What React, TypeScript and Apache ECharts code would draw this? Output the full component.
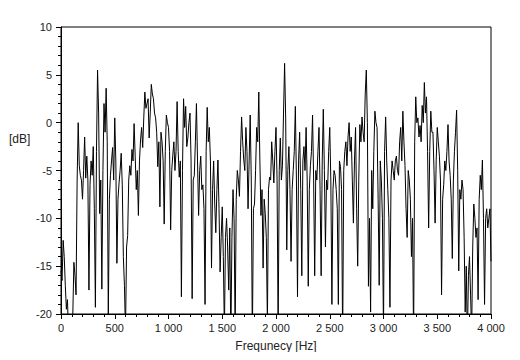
import React, { useEffect, useRef } from "react";
import * as echarts from "echarts";

// frequency step between spectrum bins (Hz)
const stepHz = 10;
// magnitude in dB (values below -20 are clipped)
const magnitudeDb = [
  -15.5, -16.5, -12.3, -14, -17, -19.5, -18.5, -22, -24, -26,
  -25, -20, -14.6, -16, -18, -6, 0, -4.5, -5.5, -6,
  -8, -5, -1.5, -5.8, -3.5, -6, -17.5, -6.5, -4, -5.5,
  -2.5, -9, -19.3, -3, 5.5, 1, -9.5, -6, -17.4, -5,
  2.0, -1, 3.6, -2, -20.5, -8, -5.5, -4, -2.6, -6,
  0.5, -4, -14.7, -8, -6.3, -5, -3.2, -6.5, -14, -17,
  -22, -13, -11.8, -6, -4.5, -5.5, -2.8, -4, -0.1, -3.5,
  -7, -5, -9.7, -4, -1.8, -0.5, -2.6, 0.5, 3.2, 1.5,
  2.0, 2.5, -1.6, 1, 4.0, 3, 2.5, 1, 0.5, -1,
  -4.6, -2, -8.8, -1, -2.0, -4, -10.6, -3, 0.8, 0,
  -0.5, -3, -11.2, -5, -3.4, -2, -5, -3, 2.2, -3,
  -5.7, -4, -18.2, -5, 2.5, -0.5, 1.7, -2.5, -1.6, 0,
  1.0, -4, -18.4, -6, -5.5, -2, 2.0, -4, -9.7, -5,
  -3.5, -7, -6.5, -9, -19, -3, 1.6, -2, -0.5, -4,
  -15.2, -7, -4, -8.5, -11.5, -7, -3.9, -9, -15.6, -12,
  -8.8, -14, -22, -12, -10, -13, -17.5, -11, -23, -12,
  -7, -10, -22, -8, -5, -6, -7.7, -3, 0.6, -2,
  -3.9, -5, -0.5, -3, -9, -4, 0.8, -6, -23, -9,
  -8.5, -5, -0.5, -2, 3.2, -4, -9.7, -7, -15.2, -8,
  -9.5, -12, -21, -7, -5.7, -6, -2, -4, -6.3, -3,
  -0.5, -6, -22, -5, -1.6, -6, -4.5, 1, 6.2, 0.5,
  -13.3, -5, -2.5, -7, -14.5, -7, -5, -3, 1.7, -6,
  -18.2, -4, -1, -7, -16, -4, -2.5, -5, -0.5, -6,
  -17.1, -7, -4.5, -3, 0.8, -6, -16, -5, -6, -3,
  -0.5, -7, -16, -4, 1.4, -5, -13, -6, -7, -3,
  -0.5, -6, -19, -7, -5, -5.5, -7, -9, -19, -4,
  -4.6, -7, -23, -5, -3, -2, -4.5, -1.5, 0, -3,
  -1.5, -6, -10.5, -4, -0.5, -9, -15, -6, -0.2, -2,
  0.6, -1, -2, 3, 5.5, 0, -17.1, -10, -19.8, -5,
  -9, -3, 1.2, 0, -0.5, -8, -17, -4, -6, -10,
  -22, -3, 0.6, -4, -7, -10, -19.3, -6, -4, -5,
  -6, -4, -3.5, -5, -5.5, -2, -0.5, -4, 1.2, -2,
  -4.5, -9, -12, -5, -6, -8, -14, -10, -23, -2,
  2.7, 0, 0.5, -1.5, -0.3, -2, 1.8, 0, 4.2, 1,
  2.7, -3, -11, -3, 1.2, -1, -1, -5, -10.5, -4,
  -0.5, -2, -3.5, -6, -18, -8, -6.5, -4, -5, -3,
  -0.2, -4, -5.5, -8, -14.2, -6, -3, -1, 1.3, -5,
  -15.5, -7, -8, -6, -7, -12, -19.8, -15, -23, -16,
  -14, -18, -22, -13, -8.5, -10, -12, -11, -18.5, -8,
  -5.5, -7, -3.9, -10, -19, -10, -9, -11, -10, -9,
  -14.5,
];
const xTicks = [0, 500, 1000, 1500, 2000, 2500, 3000, 3500, 4000];
const yTicks = [-20, -15, -10, -5, 0, 5, 10];

const FONT = "Liberation Sans";

export default function App() {
  const ref = useRef<HTMLDivElement>(null);
  useEffect(() => {
    if (!ref.current) return;
    const chart = echarts.init(ref.current, undefined, { renderer: "svg" });
    const data = magnitudeDb.map((v, i) => [i * stepHz, v]);
    chart.setOption({
      animation: false,
      backgroundColor: "#ffffff",
      grid: {
        left: 61,
        right: 29,
        top: 27,
        bottom: 46,
        show: true,
        borderColor: "#000",
        borderWidth: 1,
        backgroundColor: "transparent",
      },
      xAxis: {
        type: "value",
        min: xTicks[0],
        max: xTicks[xTicks.length - 1],
        interval: 500,
        name: "Frequnecy [Hz]",
        nameLocation: "middle",
        nameGap: 26,
        nameTextStyle: { fontFamily: FONT, fontSize: 12, color: "#222" },
        axisLine: { show: true, onZero: false, lineStyle: { color: "#000", width: 1 } },
        axisTick: { show: true, length: 5, lineStyle: { color: "#000" } },
        minorTick: { show: true, splitNumber: 5, length: 3, lineStyle: { color: "#000" } },
        splitLine: { show: false },
        axisLabel: {
          fontFamily: FONT,
          fontSize: 11,
          color: "#222",
          margin: 8,
          formatter: (v: number) => String(v).replace(/\B(?=(\d{3})+(?!\d))/g, " "),
        },
      },
      yAxis: {
        type: "value",
        min: yTicks[0],
        max: yTicks[yTicks.length - 1],
        interval: 5,
        axisLine: { show: true, onZero: false, lineStyle: { color: "#000", width: 1 } },
        axisTick: { show: true, length: 5, lineStyle: { color: "#000" } },
        minorTick: { show: true, splitNumber: 5, length: 3, lineStyle: { color: "#000" } },
        splitLine: { show: false },
        axisLabel: { fontFamily: FONT, fontSize: 11, color: "#222", margin: 9 },
      },
      graphic: [
        {
          type: "text",
          left: 9,
          top: 133,
          style: { text: "[dB]", fontFamily: FONT, fontSize: 12, fill: "#222" },
        },
      ],
      series: [
        {
          type: "line",
          data,
          symbol: "none",
          clip: true,
          lineStyle: { color: "#000", width: 1 },
        },
      ],
    });
    return () => chart.dispose();
  }, []);
  return <div ref={ref} style={{ width: 520, height: 360, margin: -8 }} />;
}
